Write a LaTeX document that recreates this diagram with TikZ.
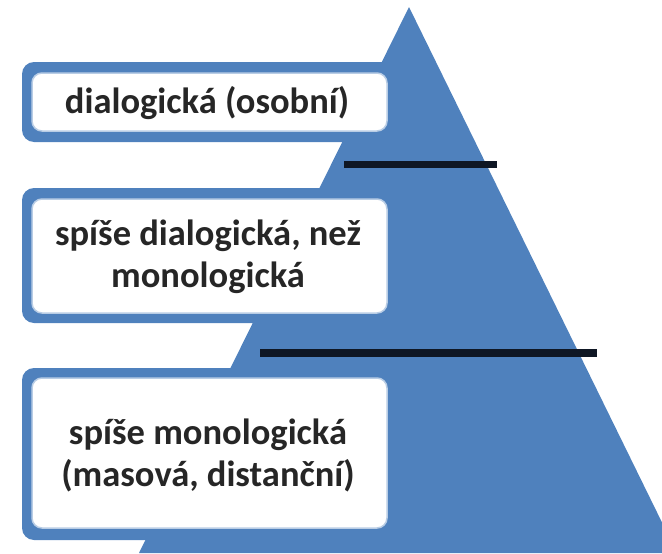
\documentclass[tikz,border=0pt]{standalone}
\usepackage{fontspec}
\setmainfont{Carlito}
\definecolor{pyrblue}{HTML}{4F81BD}
\definecolor{edgeblue}{HTML}{B9CDE5}
\definecolor{barblack}{HTML}{0F1724}
\definecolor{txt}{HTML}{262626}
\begin{document}
\begin{tikzpicture}[x=1pt,y=-1pt,
  outerbox/.style={fill=pyrblue, draw=none, rounded corners=12pt},
  innerbox/.style={fill=white, draw=edgeblue, line width=1.5pt, rounded corners=10pt},
  label/.style={text=txt, align=center, font=\bfseries\fontsize{36.5}{42}\selectfont, inner sep=0pt},
  bar/.style={draw=barblack, line width=7pt}]
\useasboundingbox (0,0) rectangle (662,554);
\begin{scope}
\clip (0,0) rectangle (662,554);
\fill[pyrblue] (409,7) -- (139,553) -- (677,553) -- cycle;
\end{scope}
% box 1
\draw[outerbox] (22,62) rectangle (395,142);
\draw[innerbox] (32,73) rectangle (387,131);
\node[label] (t1) at (207,103) {dialogická (osobní)};
% box 2
\draw[outerbox] (22,188) rectangle (395,323);
\draw[innerbox] (32,199) rectangle (387,313);
\node[label] (t2) at (208,257) {spíše dialogická, než\\monologická};
% box 3
\draw[outerbox] (22,368) rectangle (395,540);
\draw[innerbox] (32,378) rectangle (387,528);
\node[label] (t3) at (208,455) {spíše monologická\\(masová, distanční)};
% bars
\coordinate (l1a) at (344,164);
\coordinate (l1b) at (497,164);
\coordinate (l2a) at (260,353);
\coordinate (l2b) at (597,353);
\draw[bar] (l1a) -- (l1b);
\draw[bar, line width=8pt] (l2a) -- (l2b);
\end{tikzpicture}
\end{document}
